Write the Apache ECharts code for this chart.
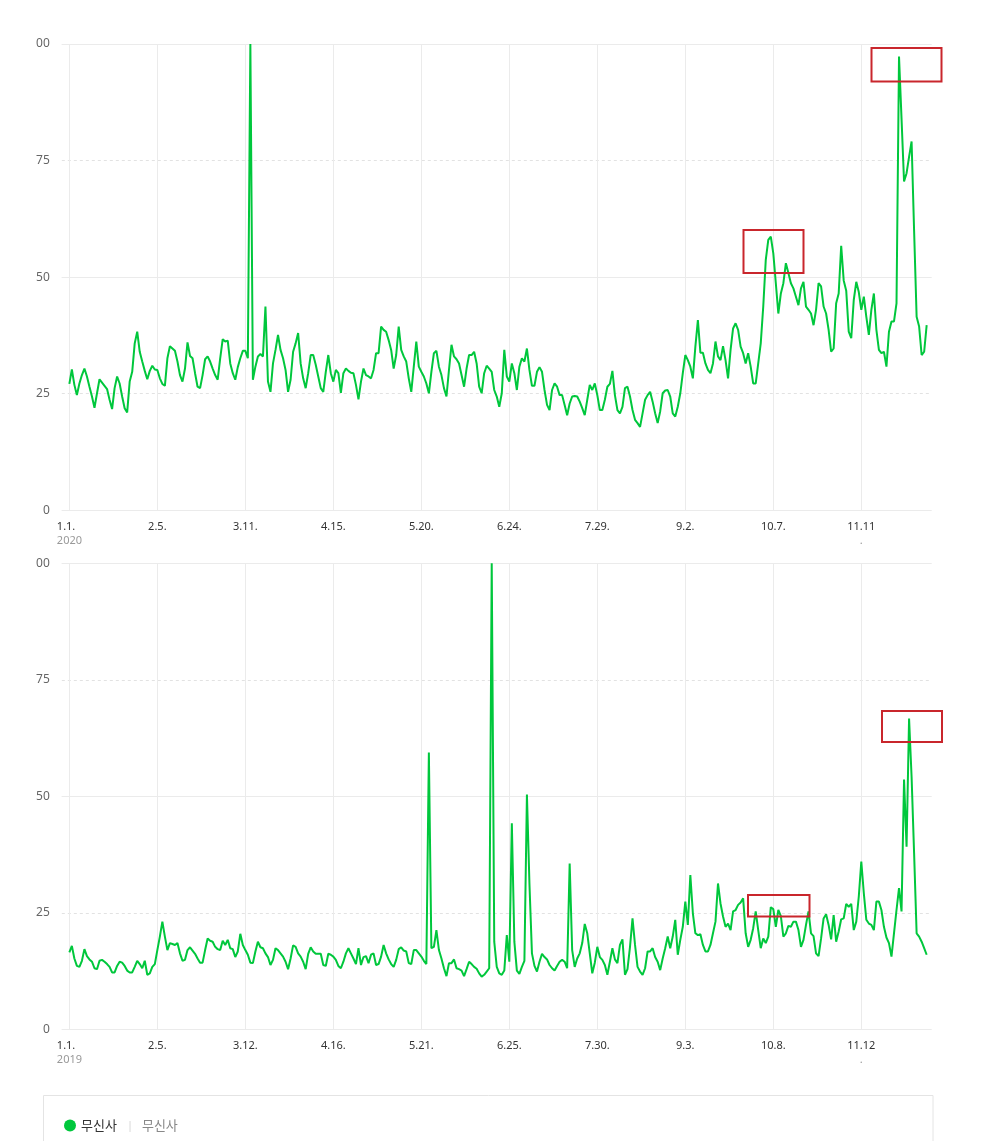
<!DOCTYPE html>
<html>
<head>
<meta charset="utf-8">
<script src="https://cdn.jsdelivr.net/npm/echarts@6/dist/echarts.min.js"></script>
<style>
html,body{margin:0;padding:0;background:#fff;}
#chart{width:1002px;height:1141px;}
</style>
</head>
<body>
<div id="chart"></div>
<script>
// ---------------- DATA ----------------
const seriesName = '무신사';
const year2020 = '2020';
const year2019 = '2019';
const tickStep = 35; // days between axis labels
const ticks2020 = ['1.1.', '2.5.', '3.11.', '4.15.', '5.20.', '6.24.', '7.29.', '9.2.', '10.7.', '11.11'];
const ticks2019 = ['1.1.', '2.5.', '3.12.', '4.16.', '5.21.', '6.25.', '7.30.', '9.3.', '10.8.', '11.12'];
const yTicks = [0, 25, 50, 75, 100];

const values2020 = [
  27.1, 30.2, 26.9, 24.7, 27.2, 29, 30.4, 28.7, 26.5, 24.4,
  22, 25.1, 28.1, 27.4, 26.7, 26, 23.7, 21.7, 26.2, 28.7,
  27.2, 24.4, 21.9, 21, 27.6, 29.7, 35.8, 38.3, 34, 31.9,
  29.9, 28.1, 29.9, 31, 30.2, 30.1, 28.3, 27.1, 26.7, 32.6,
  35.2, 34.7, 34.2, 31.9, 29, 27.6, 30.4, 36, 33.1, 32.6,
  29.4, 26.5, 26.2, 29, 32.4, 33, 31.9, 30.4, 29, 28,
  32.6, 36.7, 36.2, 36.4, 31.5, 29.4, 28, 30.7, 32.6, 34.2,
  34.2, 32.6, 100, 28, 30.8, 33, 33.5, 33, 43.7, 27.6,
  25.4, 31.5, 34.4, 37.6, 34.4, 32.6, 30.1, 25.4, 28, 34,
  35.8, 38, 31.5, 28.3, 26.2, 29.4, 33.3, 33.3, 31.2, 28.7,
  26.2, 25.4, 29.7, 33.3, 29.4, 27.6, 30.1, 29.4, 25.2, 29.4,
  30.4, 29.9, 29.5, 29.4, 26.9, 23.8, 27.6, 30.4, 29, 28.7,
  28.3, 30.1, 33.7, 33.7, 39.4, 38.7, 38.3, 36.5, 34.4, 30.4,
  33.3, 39.4, 34.4, 33, 31.9, 28.3, 25.4, 30.8, 36.2, 30.8,
  29.7, 28.7, 27.2, 25.1, 29.7, 33.7, 34.2, 30.8, 29, 26.2,
  24.4, 30.1, 35.5, 33, 32.4, 31.5, 29, 26.5, 30.4, 33.3,
  33.3, 34, 31.5, 26.5, 25.1, 29.4, 31, 30.4, 29.7, 25.8,
  24.4, 22.2, 25.1, 34.4, 28.7, 27.6, 31.5, 29.4, 25.8, 30.8,
  32.6, 31.9, 34.7, 30.1, 26.7, 26.7, 29.7, 30.7, 29.7, 25.8,
  22.6, 21.5, 25.8, 27.2, 26.5, 24.7, 24.7, 22.6, 20.4, 22.9,
  24.4, 24.5, 24.4, 23.3, 21.9, 20.4, 23.7, 26.9, 25.8, 27.2,
  24.7, 21.5, 21.5, 23.7, 26.5, 27.1, 29.9, 24.7, 21.5, 20.8,
  22.2, 26.2, 26.5, 24.4, 21.5, 19.4, 18.7, 17.9, 20.8, 23.7,
  24.7, 25.4, 23.3, 20.8, 18.7, 21.2, 25.1, 25.7, 25.8, 24.4,
  20.8, 20.1, 22.2, 25.1, 29.4, 33.3, 32.2, 30.8, 28.3, 35.1,
  40.8, 33.8, 33.8, 31.5, 30.1, 29.4, 31.5, 36.2, 33, 32.2,
  35.2, 32.2, 28.3, 34.4, 39, 40.1, 38.7, 35.1, 33.7, 31.5,
  33.7, 30.8, 27.2, 27.2, 31.5, 35.8, 43.7, 53.7, 58, 58.7,
  55.1, 48.7, 42.2, 46.5, 48.7, 53, 50.9, 48.7, 47.6, 45.8,
  44, 47.6, 49, 43.7, 43, 42.2, 39.7, 43, 48.7, 48,
  43.7, 42.2, 38.7, 34, 34.7, 44.4, 46.5, 56.7, 49.3, 47.1,
  38.3, 36.9, 45.1, 49, 46.8, 43, 45.8, 41.5, 37.6, 43,
  46.5, 38.7, 34.4, 33.7, 34, 30.8, 38.3, 40.5, 40.5, 44.4,
  97.3, 84, 70.5, 72.3, 75.8, 79.1, 60, 41.5, 39.4, 33.3,
  34, 39.7
];

const values2019 = [
  16.5, 17.9, 15.2, 13.6, 13.4, 14.7, 17.2, 15.7, 15, 14.5,
  13.1, 12.9, 14.7, 14.9, 14.5, 14, 13.4, 12.2, 12.2, 13.6,
  14.5, 14.3, 13.6, 12.6, 12.2, 12.2, 13.4, 14.7, 14, 13.1,
  14.7, 11.7, 12, 13.4, 14, 17, 19.9, 23.1, 19.9, 17,
  18.5, 18.3, 18.1, 18.5, 16.3, 14.7, 14.9, 17, 17.6, 16.9,
  16.2, 15.2, 14.3, 14.3, 17, 19.5, 19, 18.8, 17.7, 17.2,
  17, 19, 18.1, 19.2, 17.4, 17.2, 15.5, 16.7, 20.5, 18.1,
  17, 16, 14.3, 14.2, 16.7, 18.8, 17.6, 17.4, 16.3, 15.5,
  13.8, 14.9, 17.4, 17, 16.3, 15.6, 14.5, 12.9, 15.2, 18,
  17.7, 16.3, 15.6, 14.5, 12.9, 16.2, 17.6, 16.7, 16.2, 16.2,
  16.2, 13.8, 13.6, 16.2, 16, 15.6, 14.9, 13.6, 13.1, 14.5,
  16.3, 17.4, 16.3, 15.2, 14, 17.4, 13.8, 15.5, 15.7, 14.2,
  16, 16.3, 13.8, 14, 15.6, 18.1, 16.3, 15, 14, 13.4,
  14.9, 17.2, 17.6, 16.9, 16.7, 14.2, 14, 17, 17, 16.3,
  15.6, 14.7, 14, 59.4, 17.4, 17.7, 21.3, 17, 15.2, 13.1,
  11.4, 14.2, 14.2, 15, 13.1, 12.9, 12.6, 11.4, 12.9, 14.5,
  14, 13.4, 13, 12, 11.3, 11.7, 12.4, 13.1, 100, 18.8,
  13.4, 12, 11.7, 12.6, 20.2, 14.5, 44.2, 18.8, 12.6, 11.9,
  13.4, 14.7, 50.4, 31.3, 16.3, 13.6, 12.4, 14.5, 16.2, 15.5,
  15, 13.8, 13.1, 12.6, 13.6, 14.5, 14.9, 14.5, 13.1, 35.6,
  17, 13.4, 15.2, 16.3, 18.5, 22.6, 20.6, 16.3, 12, 14.3,
  17.7, 15.5, 14.9, 13.8, 11.7, 14.5, 17.4, 15, 14.2, 18.1,
  19.3, 11.7, 12.9, 17.7, 23.8, 18.1, 13.4, 12.4, 11.7, 13.1,
  16.7, 16.7, 17.4, 15.5, 14.5, 12.7, 15.2, 17.4, 19.9, 17.4,
  19.9, 23.5, 16, 19.2, 22, 27.4, 22.4, 33.1, 24.9, 20.6,
  20.2, 20.4, 18.1, 16.7, 16.7, 18.1, 20.6, 23.1, 31.3, 27,
  24.2, 22, 22.7, 21.3, 25.3, 25.6, 26.7, 27.2, 28.1, 20.6,
  17.7, 19.2, 21.7, 25.3, 21.3, 17.4, 19.5, 18.5, 19.9, 26.2,
  25.8, 22, 25.6, 24.3, 19.9, 20.6, 22.2, 22, 23.1, 23.1,
  21.3, 17.7, 19.2, 22.4, 25.3, 20.6, 20, 16.3, 15.7, 19.5,
  23.8, 24.7, 22.4, 19.3, 24.5, 18.8, 21, 23.6, 23.8, 26.9,
  26.3, 26.9, 21.3, 23.1, 28.5, 36, 29.2, 23.5, 22.7, 22.4,
  21.3, 27.4, 27.4, 25.6, 22, 19.7, 18.5, 15.6, 20.6, 25.6,
  30.3, 25.3, 53.6, 39.2, 66.7, 54.2, 37.8, 20.6, 19.9, 18.8,
  17.4, 16
];

// ---------------- BUILD ----------------
const PAD_BEFORE = 3, PAD_AFTER = 2;
function buildAxis(year, count, ticks) {
  const cats = [];
  const labels = {};
  for (let i = 0; i < PAD_BEFORE; i++) cats.push('pre' + i);
  for (let d = 0; d < count; d++) {
    const dt = new Date(Date.UTC(+year, 0, 1 + d));
    const key = dt.toISOString().slice(0, 10);
    cats.push(key);
    if (d % tickStep === 0) {
      const k = d / tickStep;
      if (k < ticks.length) {
        if (k === 0) labels[key] = '{f|' + ticks[k] + '}\n{fy|' + year + '}';
        else if (k === ticks.length - 1) labels[key] = '{d|' + ticks[k] + '}\n{y|.}';
        else labels[key] = '{d|' + ticks[k] + '}';
      }
    }
  }
  for (let i = 0; i < PAD_AFTER; i++) cats.push('post' + i);
  return { cats, labels };
}
function padValues(vals) {
  const out = [];
  for (let i = 0; i < PAD_BEFORE; i++) out.push('-');
  vals.forEach(v => out.push(v));
  for (let i = 0; i < PAD_AFTER; i++) out.push('-');
  return out;
}

const axTop = buildAxis(year2020, values2020.length, ticks2020);
const axBot = buildAxis(year2019, values2019.length, ticks2019);

const FONT = "'Noto Sans', 'Noto Sans CJK KR', sans-serif";
const KFONT = "'Noto Sans CJK KR', sans-serif";
const GREEN = '#00c73c';
const GRID_SOLID = '#ebebeb';
const GRID_DASH = '#e2e2e2';

const rich = {
  d: { fontSize: 11, color: '#333', fontFamily: FONT, lineHeight: 14 },
  y: { fontSize: 11, color: '#999', fontFamily: FONT, lineHeight: 14 },
  f: { fontSize: 11, color: '#333', fontFamily: FONT, lineHeight: 14, width: 25, align: 'left' },
  fy: { fontSize: 11, color: '#999', fontFamily: FONT, lineHeight: 14, width: 25, align: 'left' }
};

function xAxisFor(ax, gridIndex) {
  const show = (idx, val) => Object.prototype.hasOwnProperty.call(ax.labels, val);
  return {
    type: 'category', gridIndex, data: ax.cats, boundaryGap: false,
    axisLine: { show: false }, axisTick: { show: false },
    axisLabel: {
      interval: show, margin: 10, verticalAlign: 'top',
      formatter: (val) => ax.labels[val] || '', rich
    },
    splitLine: { show: true, interval: show, lineStyle: { color: GRID_SOLID, width: 1 } }
  };
}
function yAxesFor(gridIndex) {
  return [{
    type: 'value', gridIndex, min: 0, max: 100, interval: 25,
    axisLine: { show: false }, axisTick: { show: false },
    axisLabel: {
      margin: 12, color: '#666', fontSize: 12, fontFamily: FONT,
      formatter: v => (v === yTicks[yTicks.length - 1] ? String(v).slice(1) : String(v))
    },
    splitLine: { show: true, lineStyle: { color: GRID_DASH, type: [3, 3], width: 1 } }
  }, {
    type: 'value', gridIndex, min: 0, max: 100, interval: 50, position: 'left',
    axisLine: { show: false }, axisTick: { show: false }, axisLabel: { show: false },
    splitLine: { show: true, lineStyle: { color: GRID_SOLID, width: 1 } }
  }];
}

const redRect = (x, y, w, h) => ({
  type: 'rect', z: 100, silent: true,
  shape: { x, y, width: w, height: h },
  style: { fill: 'none', stroke: '#c9262c', lineWidth: 2 }
});

const chart = echarts.init(document.getElementById('chart'), null, { renderer: 'canvas' });
chart.setOption({
  animation: false,
  backgroundColor: '#fff',
  textStyle: { fontFamily: FONT },
  grid: [
    { left: 61.8, right: 70.3, top: 44, height: 466.3 },
    { left: 61.8, right: 70.3, top: 563.3, height: 466 }
  ],
  xAxis: [xAxisFor(axTop, 0), xAxisFor(axBot, 1)],
  yAxis: [...yAxesFor(0), ...yAxesFor(1)],
  legend: {
    left: 64, top: 1119, padding: 0, icon: 'circle', itemWidth: 12, itemHeight: 12,
    data: [seriesName],
    formatter: name => '{a|' + name + '}{s||}{b|' + name + '}',
    textStyle: {
      padding: [0, 0, 0, 0],
      rich: {
        a: { fontSize: 13, color: '#333', fontFamily: KFONT },
        s: { fontSize: 11, color: '#d5d5d5', padding: [0, 9, 0, 10] },
        b: { fontSize: 13, color: '#888', fontFamily: KFONT }
      }
    }
  },
  series: [
    {
      name: seriesName, type: 'line', xAxisIndex: 0, yAxisIndex: 0,
      data: padValues(values2020), showSymbol: false, symbol: 'none',
      lineStyle: { color: GREEN, width: 2 }, itemStyle: { color: GREEN }, z: 5
    },
    {
      name: seriesName, type: 'line', xAxisIndex: 1, yAxisIndex: 2,
      data: padValues(values2019), showSymbol: false, symbol: 'none',
      lineStyle: { color: GREEN, width: 2 }, itemStyle: { color: GREEN }, z: 5
    }
  ],
  graphic: [
    {
      type: 'rect', z: -1, silent: true,
      shape: { x: 43.5, y: 1095.5, width: 889.5, height: 80 },
      style: { fill: '#fff', stroke: '#e4e4e4', lineWidth: 1 }
    },
    redRect(743.5, 230, 60, 43),
    redRect(871.5, 48, 70, 33.5),
    redRect(748, 895, 61.5, 21.5),
    redRect(882, 711, 60, 31)
  ]
});
</script>
</body>
</html>
